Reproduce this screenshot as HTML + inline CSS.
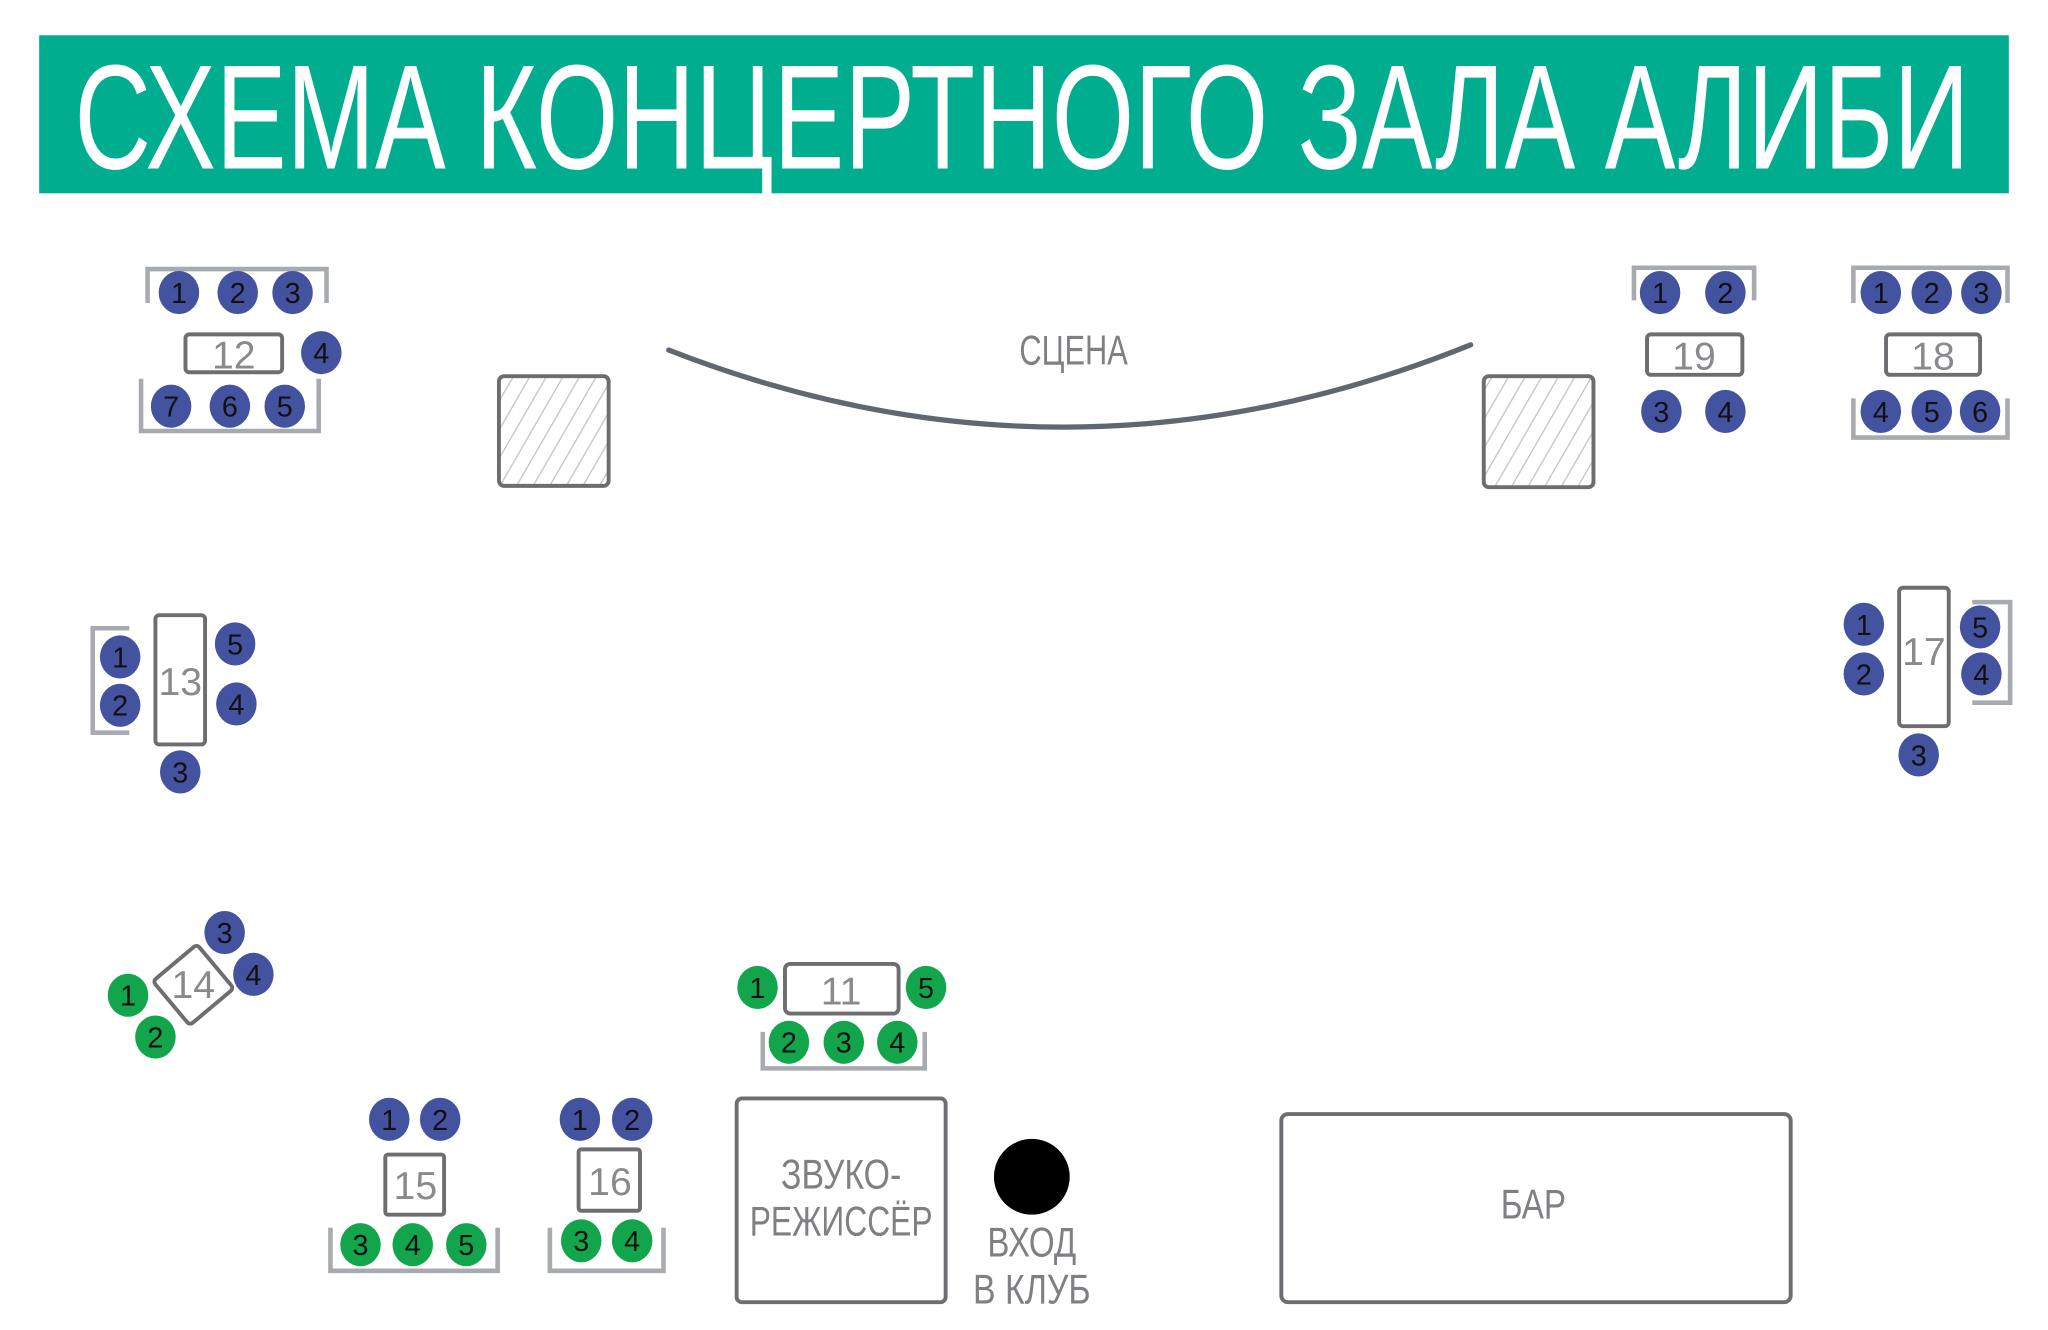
<!DOCTYPE html>
<html><head><meta charset="utf-8"><style>
html,body{margin:0;padding:0;background:#fff;}
svg{display:block;}
text{font-family:"Liberation Sans Narrow","Liberation Sans",sans-serif;}
.n{font-size:22px;fill:#111;text-anchor:middle;}
.b{fill:#4353a0;}
.g{fill:#13a54b;}
.t{fill:none;stroke:#6e6e72;stroke-width:3;}
.tl{fill:#8a8a8e;text-anchor:middle;font-size:30px;}
.br{fill:none;stroke:#a7abb0;stroke-width:3.5;stroke-linejoin:miter;}
.lbl{fill:#808084;text-anchor:middle;font-size:32px;}
</style></head><body>
<svg width="2048" height="1330" viewBox="0 0 1568 1018.3" preserveAspectRatio="none" xmlns="http://www.w3.org/2000/svg">
<defs>
<pattern id="h" width="11" height="11" patternUnits="userSpaceOnUse" patternTransform="rotate(30)">
<line x1="0" y1="0" x2="0" y2="11" stroke="#c4c4c4" stroke-width="2"/>
</pattern>
</defs>
<rect x="30" y="27" width="1508" height="121" fill="#00ae8f"/>
<text x="57" y="129" font-size="114" fill="#fff" textLength="1451" lengthAdjust="spacingAndGlyphs">СХЕМА КОНЦЕРТНОГО ЗАЛА АЛИБИ</text>

<path d="M512 268 Q819 388 1126 264" fill="none" stroke="#5f6870" stroke-width="4" stroke-linecap="round"/>
<text x="822" y="279" class="lbl" font-size="30" textLength="83" lengthAdjust="spacingAndGlyphs">СЦЕНА</text>

<rect x="382" y="288" width="84" height="84" rx="4" fill="url(#h)" stroke="#6d6d6d" stroke-width="3"/>
<rect x="1136" y="288" width="84" height="85" rx="4" fill="url(#h)" stroke="#6d6d6d" stroke-width="3"/>

<g id="all">
<!-- Table 12 -->
<path class="br" d="M113 232 V206 H250 V232"/>
<path class="br" d="M108 290 V330 H244 V290"/>
<rect class="t" x="142" y="256" width="74" height="29" rx="3"/>
<text class="tl" x="179" y="282">12</text>
<ellipse class="b" cx="137" cy="224" rx="15.5" ry="16.5"/><text class="n" x="137" y="232">1</text>
<ellipse class="b" cx="182" cy="224" rx="15.5" ry="16.5"/><text class="n" x="182" y="232">2</text>
<ellipse class="b" cx="224" cy="224" rx="15.5" ry="16.5"/><text class="n" x="224" y="232">3</text>
<ellipse class="b" cx="246" cy="270" rx="15.5" ry="16.5"/><text class="n" x="246" y="278">4</text>
<ellipse class="b" cx="131" cy="311" rx="15.5" ry="16.5"/><text class="n" x="131" y="319">7</text>
<ellipse class="b" cx="176" cy="311" rx="15.5" ry="16.5"/><text class="n" x="176" y="319">6</text>
<ellipse class="b" cx="218" cy="311" rx="15.5" ry="16.5"/><text class="n" x="218" y="319">5</text>

<!-- Table 19 -->
<path class="br" d="M1251 230 V205 H1343 V230"/>
<rect class="t" x="1261" y="256" width="73" height="31" rx="3"/>
<text class="tl" x="1297" y="283">19</text>
<ellipse class="b" cx="1271" cy="224" rx="15.5" ry="16.5"/><text class="n" x="1271" y="232">1</text>
<ellipse class="b" cx="1321" cy="224" rx="15.5" ry="16.5"/><text class="n" x="1321" y="232">2</text>
<ellipse class="b" cx="1272" cy="315" rx="15.5" ry="16.5"/><text class="n" x="1272" y="323">3</text>
<ellipse class="b" cx="1321" cy="315" rx="15.5" ry="16.5"/><text class="n" x="1321" y="323">4</text>

<!-- Table 18 -->
<path class="br" d="M1419 232 V205 H1537 V232"/>
<path class="br" d="M1419 305 V335 H1537 V305"/>
<rect class="t" x="1444" y="256" width="72" height="31" rx="3"/>
<text class="tl" x="1480" y="283">18</text>
<ellipse class="b" cx="1440" cy="224" rx="15.5" ry="16.5"/><text class="n" x="1440" y="232">1</text>
<ellipse class="b" cx="1479" cy="224" rx="15.5" ry="16.5"/><text class="n" x="1479" y="232">2</text>
<ellipse class="b" cx="1517" cy="224" rx="15.5" ry="16.5"/><text class="n" x="1517" y="232">3</text>
<ellipse class="b" cx="1440" cy="315" rx="15.5" ry="16.5"/><text class="n" x="1440" y="323">4</text>
<ellipse class="b" cx="1479" cy="315" rx="15.5" ry="16.5"/><text class="n" x="1479" y="323">5</text>
<ellipse class="b" cx="1516" cy="315" rx="15.5" ry="16.5"/><text class="n" x="1516" y="323">6</text>

<!-- Table 13 -->
<path class="br" d="M99 481 H71 V561 H99"/>
<rect class="t" x="119" y="471" width="38" height="99" rx="3"/>
<text class="tl" x="138" y="532">13</text>
<ellipse class="b" cx="92" cy="503" rx="15.5" ry="16.5"/><text class="n" x="92" y="511">1</text>
<ellipse class="b" cx="92" cy="540" rx="15.5" ry="16.5"/><text class="n" x="92" y="548">2</text>
<ellipse class="b" cx="180" cy="493" rx="15.5" ry="16.5"/><text class="n" x="180" y="501">5</text>
<ellipse class="b" cx="181" cy="539" rx="15.5" ry="16.5"/><text class="n" x="181" y="547">4</text>
<ellipse class="b" cx="138" cy="591" rx="15.5" ry="16.5"/><text class="n" x="138" y="599">3</text>

<!-- Table 17 -->
<path class="br" d="M1510 461 H1539 V538 H1510"/>
<rect class="t" x="1454" y="450" width="38" height="106" rx="3"/>
<text class="tl" x="1473" y="509">17</text>
<ellipse class="b" cx="1427" cy="478" rx="15.5" ry="16.5"/><text class="n" x="1427" y="486">1</text>
<ellipse class="b" cx="1427" cy="516" rx="15.5" ry="16.5"/><text class="n" x="1427" y="524">2</text>
<ellipse class="b" cx="1516" cy="480" rx="15.5" ry="16.5"/><text class="n" x="1516" y="488">5</text>
<ellipse class="b" cx="1517" cy="516" rx="15.5" ry="16.5"/><text class="n" x="1517" y="524">4</text>
<ellipse class="b" cx="1469" cy="578" rx="15.5" ry="16.5"/><text class="n" x="1469" y="586">3</text>

<!-- Table 14 -->
<rect class="t" x="-22" y="-22" width="44" height="44" rx="3" transform="translate(148 754) rotate(-40)"/>
<text class="tl" x="148" y="764">14</text>
<ellipse class="b" cx="172" cy="714" rx="15.5" ry="16.5"/><text class="n" x="172" y="722">3</text>
<ellipse class="b" cx="194" cy="746" rx="15.5" ry="16.5"/><text class="n" x="194" y="754">4</text>
<ellipse class="g" cx="98" cy="762" rx="15.5" ry="16.5"/><text class="n" x="98" y="770">1</text>
<ellipse class="g" cx="119" cy="794" rx="15.5" ry="16.5"/><text class="n" x="119" y="802">2</text>

<!-- Table 11 -->
<path class="br" d="M584 790 V818 H708 V790"/>
<rect class="t" x="601" y="738" width="87" height="38" rx="4"/>
<text class="tl" x="644" y="769">11</text>
<ellipse class="g" cx="580" cy="756" rx="15.5" ry="16.5"/><text class="n" x="580" y="764">1</text>
<ellipse class="g" cx="709" cy="756" rx="15.5" ry="16.5"/><text class="n" x="709" y="764">5</text>
<ellipse class="g" cx="604" cy="798" rx="15.5" ry="16.5"/><text class="n" x="604" y="806">2</text>
<ellipse class="g" cx="646" cy="798" rx="15.5" ry="16.5"/><text class="n" x="646" y="806">3</text>
<ellipse class="g" cx="687" cy="798" rx="15.5" ry="16.5"/><text class="n" x="687" y="806">4</text>

<!-- Table 15 -->
<path class="br" d="M253 940 V973 H381 V940"/>
<rect class="t" x="295" y="884" width="45" height="46" rx="2"/>
<text class="tl" x="318" y="918">15</text>
<ellipse class="b" cx="298" cy="857" rx="15.5" ry="16.5"/><text class="n" x="298" y="865">1</text>
<ellipse class="b" cx="337" cy="857" rx="15.5" ry="16.5"/><text class="n" x="337" y="865">2</text>
<ellipse class="g" cx="276" cy="953" rx="15.5" ry="16.5"/><text class="n" x="276" y="961">3</text>
<ellipse class="g" cx="316" cy="953" rx="15.5" ry="16.5"/><text class="n" x="316" y="961">4</text>
<ellipse class="g" cx="357" cy="953" rx="15.5" ry="16.5"/><text class="n" x="357" y="961">5</text>

<!-- Table 16 -->
<path class="br" d="M421 940 V973 H508 V940"/>
<rect class="t" x="443" y="880" width="47" height="47" rx="2"/>
<text class="tl" x="467" y="915">16</text>
<ellipse class="b" cx="444" cy="857" rx="15.5" ry="16.5"/><text class="n" x="444" y="865">1</text>
<ellipse class="b" cx="484" cy="857" rx="15.5" ry="16.5"/><text class="n" x="484" y="865">2</text>
<ellipse class="g" cx="445" cy="950" rx="15.5" ry="16.5"/><text class="n" x="445" y="958">3</text>
<ellipse class="g" cx="484" cy="950" rx="15.5" ry="16.5"/><text class="n" x="484" y="958">4</text>
</g>

<!-- Sound engineer -->
<rect class="t" x="564" y="841" width="160" height="156" rx="4"/>
<text class="lbl" x="644" y="910" textLength="92" lengthAdjust="spacingAndGlyphs">ЗВУКО-</text>
<text class="lbl" x="644" y="946" textLength="140" lengthAdjust="spacingAndGlyphs">РЕЖИССЁР</text>

<circle cx="790" cy="901" r="29" fill="#000"/>
<text class="lbl" x="790" y="962" textLength="68" lengthAdjust="spacingAndGlyphs">ВХОД</text>
<text class="lbl" x="790" y="998" textLength="90" lengthAdjust="spacingAndGlyphs">В КЛУБ</text>

<rect class="t" x="981" y="853" width="390" height="144" rx="5"/>
<text class="lbl" x="1174" y="933" textLength="50" lengthAdjust="spacingAndGlyphs">БАР</text>
</svg>
</body></html>
